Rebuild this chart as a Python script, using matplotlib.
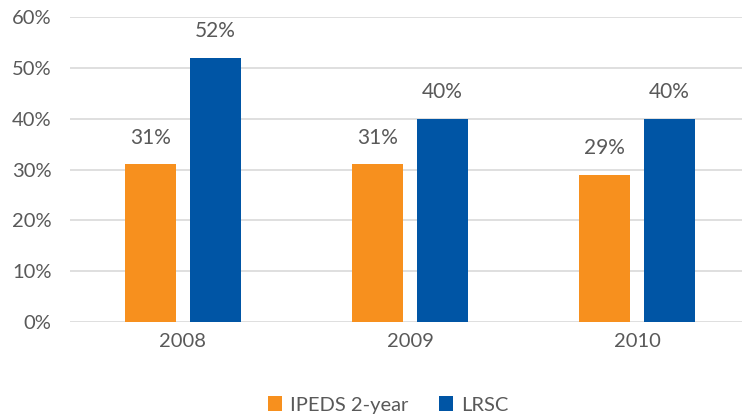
import numpy as np
import matplotlib.pyplot as plt

plt.rcParams['font.family'] = ['Lato', 'DejaVu Sans']

years = ['2008', '2009', '2010']
ipeds = [31, 31, 29]
lrsc = [52, 40, 40]
yticks = [0, 10, 20, 30, 40, 50, 60]

orange = '#F7901E'
blue = '#0055A5'
txt = '#595959'

fig = plt.figure(figsize=(7.42, 4.2), dpi=100)
ax = fig.add_axes([69.5 / 742, 98 / 420, 681 / 742, 305 / 420])

x = np.arange(len(years))
w = 0.225
b1 = ax.bar(x - 0.143, ipeds, w, color=orange, label='IPEDS 2-year', zorder=3)
b2 = ax.bar(x + 0.143, lrsc, w, color=blue, label='LRSC', zorder=3)

for bars in (b1, b2):
    for r in bars:
        ax.annotate(f'{r.get_height():.0f}%', (r.get_x() + r.get_width() / 2, r.get_height()),
                    xytext=(0, 19), textcoords='offset points', ha='center', va='center',
                    fontsize=15, color=txt)

ax.set_xlim(-0.5, 2.5)
ax.set_ylim(0, 60)
ax.set_yticks(yticks)
ax.set_yticklabels([f'{t}%' for t in yticks])
ax.set_xticks(x)
ax.set_xticklabels(years)
ax.tick_params(length=0, labelsize=14.5, colors=txt)
ax.tick_params(axis='x', pad=8)
ax.tick_params(axis='y', pad=13)
ax.yaxis.grid(True, color='#D9D9D9', linewidth=1.2, zorder=0)
for s in ax.spines.values():
    s.set_visible(False)

fig.legend(loc='center', bbox_to_anchor=(388 / 742, 1 - 405 / 420), ncol=2, frameon=False,
           fontsize=14.5, labelcolor=txt, handlelength=0.7, handleheight=0.7,
           handletextpad=0.4, columnspacing=1.5)

fig.savefig('out.png', dpi=100)
